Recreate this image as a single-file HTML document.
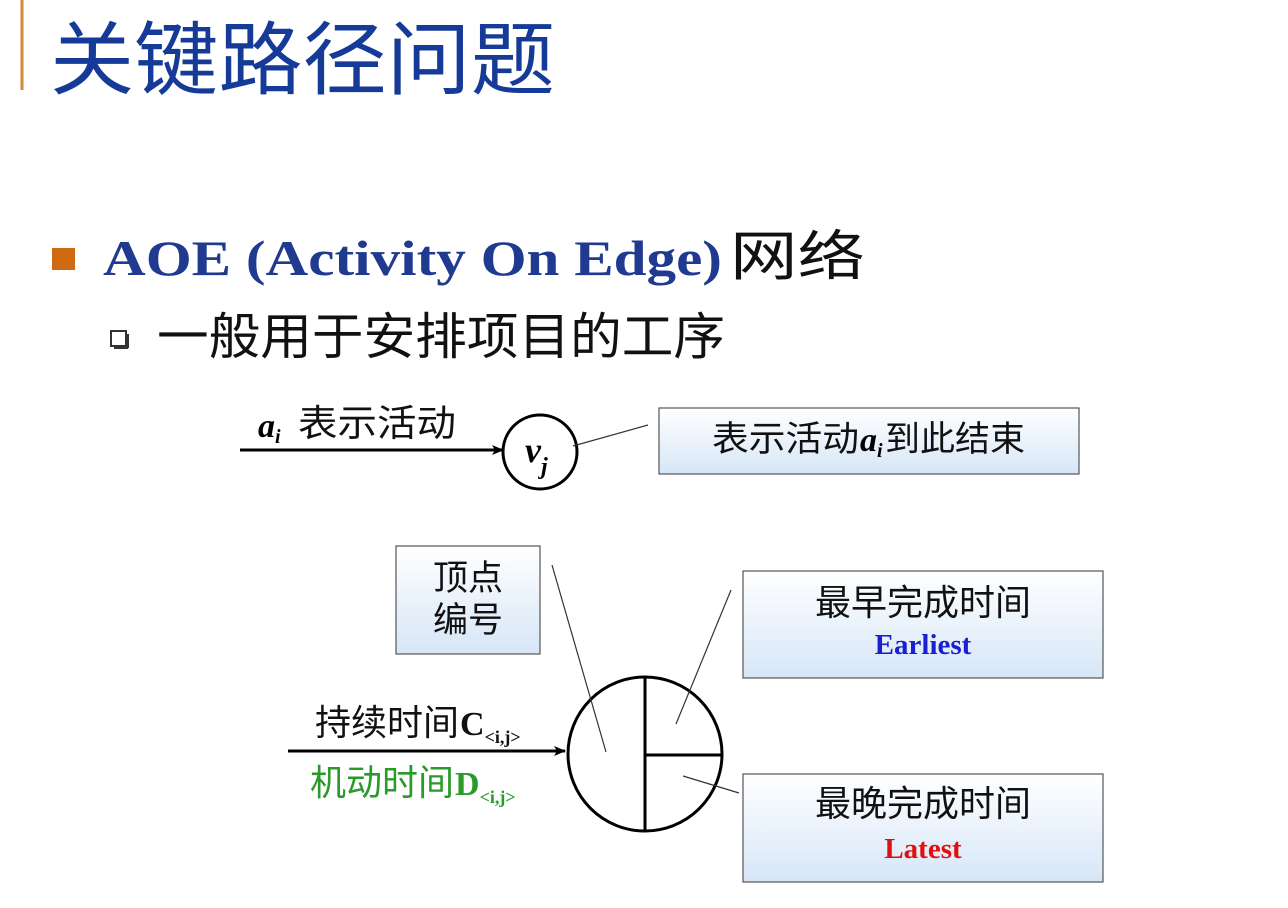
<!DOCTYPE html>
<html><head><meta charset="utf-8"><style>
html,body{margin:0;padding:0;background:#fff;}
svg{display:block;}
.cjk{font-family:"Liberation Serif","Noto Sans CJK SC",sans-serif;}
.sans{font-family:"Noto Sans CJK SC","WenQuanYi Zen Hei",sans-serif;}
</style></head><body>
<svg width="1288" height="908" viewBox="0 0 1288 908" xmlns="http://www.w3.org/2000/svg">
<defs>
<linearGradient id="g" x1="0" y1="0" x2="0" y2="1">
<stop offset="0" stop-color="#ffffff"/><stop offset="1" stop-color="#d6e6f7"/>
</linearGradient>
<marker id="ar" markerWidth="12" markerHeight="10" refX="11" refY="5" orient="auto" markerUnits="userSpaceOnUse">
<path d="M0,0 L12,5 L0,10 L3,5 Z" fill="#000"/>
</marker>
</defs>
<rect width="1288" height="908" fill="#fff"/>
<line x1="22" y1="0" x2="22" y2="90" stroke="#d08a3a" stroke-width="3"/>
<text x="50" y="88" font-size="80" fill="#163a97" class="sans" textLength="505" lengthAdjust="spacingAndGlyphs">关键路径问题</text>

<rect x="52" y="248" width="23" height="22" fill="#d0690f"/>
<text x="103" y="275" font-size="50" font-weight="bold" fill="#1f3a8f" font-family="Liberation Serif,serif" textLength="619" lengthAdjust="spacingAndGlyphs">AOE (Activity On Edge)</text>
<text x="730" y="275" font-size="54" fill="#111" class="sans" textLength="135" lengthAdjust="spacingAndGlyphs">网络</text>
<rect x="111" y="331" width="15" height="15" fill="#fff" stroke="#333" stroke-width="2"/>
<line x1="114" y1="348" x2="128" y2="348" stroke="#333" stroke-width="2"/>
<line x1="128" y1="334" x2="128" y2="348" stroke="#333" stroke-width="2"/>
<text x="157" y="354" font-size="50" fill="#111" class="sans" textLength="568" lengthAdjust="spacingAndGlyphs">一般用于安排项目的工序</text>

<!-- diagram 1 -->
<line x1="240" y1="450" x2="503" y2="450" stroke="#000" stroke-width="3" marker-end="url(#ar)"/>
<text x="258" y="437" font-size="34" font-style="italic" font-weight="bold" font-family="Liberation Serif,serif">a<tspan font-size="20" dy="6">i</tspan></text>
<text x="298" y="436" font-size="37" class="sans" fill="#111" textLength="158" lengthAdjust="spacingAndGlyphs">表示活动</text>
<circle cx="540" cy="452" r="37" fill="#fff" stroke="#000" stroke-width="3"/>
<text x="525" y="462" font-size="36" font-style="italic" font-weight="bold" font-family="Liberation Serif,serif">v<tspan font-size="24" dy="12">j</tspan></text>
<line x1="573" y1="446" x2="648" y2="425" stroke="#333" stroke-width="1.2"/>
<rect x="659" y="408" width="420" height="66" fill="url(#g)" stroke="#555" stroke-width="1.2"/>
<text x="712" y="451" font-size="35" class="sans" fill="#111" textLength="147" lengthAdjust="spacingAndGlyphs">表示活动</text>
<text x="860" y="451" font-size="34" font-style="italic" font-weight="bold" font-family="Liberation Serif,serif">a<tspan font-size="20" dy="6">i</tspan></text>
<text x="885" y="451" font-size="35" class="sans" fill="#111" textLength="140" lengthAdjust="spacingAndGlyphs">到此结束</text>

<!-- diagram 2 -->
<rect x="396" y="546" width="144" height="108" fill="url(#g)" stroke="#555" stroke-width="1.2"/>
<text x="468" y="590" font-size="35" text-anchor="middle" class="sans" fill="#111">顶点</text>
<text x="468" y="632" font-size="35" text-anchor="middle" class="sans" fill="#111">编号</text>
<rect x="743" y="571" width="360" height="107" fill="url(#g)" stroke="#555" stroke-width="1.2"/>
<text x="923" y="615" font-size="36" text-anchor="middle" class="sans" fill="#111">最早完成时间</text>
<text x="923" y="654" font-size="29" font-weight="bold" text-anchor="middle" fill="#1a1fd0" font-family="Liberation Serif,serif">Earliest</text>
<rect x="743" y="774" width="360" height="108" fill="url(#g)" stroke="#555" stroke-width="1.2"/>
<text x="923" y="816" font-size="36" text-anchor="middle" class="sans" fill="#111">最晚完成时间</text>
<text x="923" y="858" font-size="29" font-weight="bold" text-anchor="middle" fill="#e01010" font-family="Liberation Serif,serif">Latest</text>

<line x1="288" y1="751" x2="565" y2="751" stroke="#000" stroke-width="3" marker-end="url(#ar)"/>
<text x="315" y="735" font-size="36" class="sans" fill="#111" textLength="144" lengthAdjust="spacingAndGlyphs">持续时间</text>
<text x="460" y="735" font-size="34" font-weight="bold" font-family="Liberation Serif,serif" fill="#111">C<tspan font-size="18" dy="8">&lt;i,j&gt;</tspan></text>
<text x="310" y="795" font-size="36" class="sans" fill="#2a9a2a" textLength="144" lengthAdjust="spacingAndGlyphs">机动时间</text>
<text x="455" y="795" font-size="34" font-weight="bold" font-family="Liberation Serif,serif" fill="#2a9a2a">D<tspan font-size="18" dy="8">&lt;i,j&gt;</tspan></text>

<circle cx="645" cy="754" r="77" fill="#fff" stroke="#000" stroke-width="3"/>
<line x1="645" y1="677" x2="645" y2="831" stroke="#000" stroke-width="3"/>
<line x1="645" y1="755" x2="722" y2="755" stroke="#000" stroke-width="3"/>
<line x1="552" y1="565" x2="606" y2="752" stroke="#333" stroke-width="1.2"/>
<line x1="731" y1="590" x2="676" y2="724" stroke="#333" stroke-width="1.2"/>
<line x1="739" y1="793" x2="683" y2="776" stroke="#333" stroke-width="1.2"/>
</svg>
</body></html>
